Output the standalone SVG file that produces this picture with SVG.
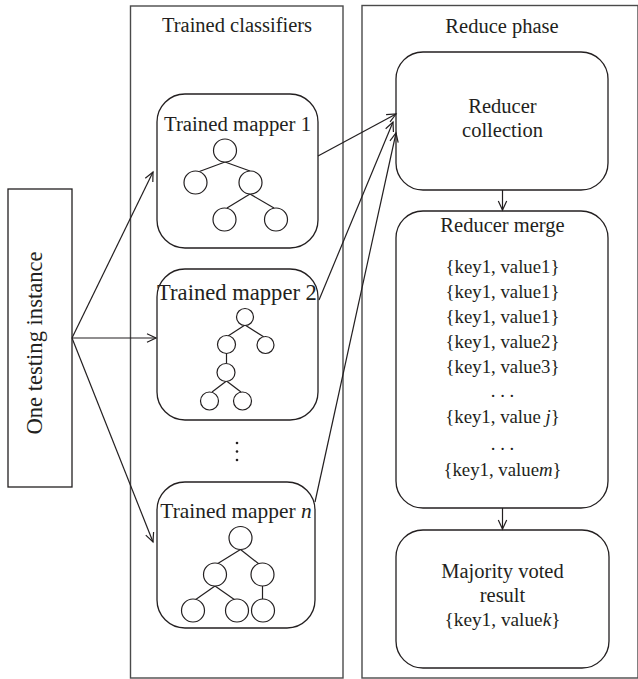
<svg xmlns="http://www.w3.org/2000/svg" width="638" height="679" viewBox="0 0 638 679">
<style>
  text { font-family: "Liberation Serif", "Times New Roman", serif; fill: #231f20; text-anchor: middle; }
  .lbl { font-size: 20.5px; }
  .kv { font-size: 18.8px; }
  .container { fill: none; stroke: #4a4a4a; stroke-width: 1.4; }
  .box { fill: #fff; stroke: #231f20; stroke-width: 1.3; }
  .node { fill: #fff; stroke: #231f20; stroke-width: 1.2; }
  .edge { stroke: #231f20; stroke-width: 1.2; fill: none; }
  .conn { stroke: #231f20; stroke-width: 1.2; fill: none; marker-end: url(#arr); }
</style>
<defs>
  <marker id="arr" markerUnits="userSpaceOnUse" markerWidth="12" markerHeight="12" refX="10" refY="5" orient="auto">
    <path d="M1,0.8 L10,5 L1,9.2" fill="none" stroke="#231f20" stroke-width="1.2"/>
  </marker>
</defs>
<rect width="638" height="679" fill="#fff"/>

<g id="trained-classifiers">
  <rect class="container" x="130.5" y="6" width="212.5" height="672"/>
  <text class="lbl" x="237" y="32">Trained classifiers</text>
</g>
<g id="reduce-phase">
  <rect class="container" x="362" y="5.5" width="276" height="672.5"/>
  <text class="lbl" x="502" y="33">Reduce phase</text>
</g>

<g id="testing-instance">
  <rect class="box" x="8" y="189" width="64" height="298"/>
  <text class="lbl" style="font-size:22.6px" transform="translate(41.5,343) rotate(-90)">One testing instance</text>
</g>

<g id="mapper1">
  <rect class="box" x="157" y="94" width="161" height="154" rx="28" ry="28"/>
  <text class="lbl" style="font-size:20.8px" x="237.5" y="130.5">Trained mapper 1</text>
  <line class="edge" x1="225" y1="162" x2="198" y2="172"/>
  <line class="edge" x1="225" y1="162" x2="250" y2="171"/>
  <line class="edge" x1="250" y1="194" x2="227" y2="208"/>
  <line class="edge" x1="250" y1="194" x2="274" y2="208"/>
  <circle class="node" cx="225" cy="150.5" r="11.5"/>
  <circle class="node" cx="195.5" cy="182.5" r="11.5"/>
  <circle class="node" cx="250.5" cy="182.5" r="11.5"/>
  <circle class="node" cx="224.5" cy="219.5" r="11.5"/>
  <circle class="node" cx="276" cy="219.5" r="11.5"/>
</g>

<g id="mapper2">
  <rect class="box" x="157" y="269" width="161" height="151" rx="28" ry="28"/>
  <text class="lbl" style="font-size:22.6px" x="237" y="300">Trained mapper 2</text>
  <line class="edge" x1="245" y1="325" x2="228" y2="336"/>
  <line class="edge" x1="245" y1="325" x2="264" y2="337"/>
  <line class="edge" x1="226.5" y1="353" x2="226.5" y2="363"/>
  <line class="edge" x1="226.5" y1="381" x2="212" y2="392"/>
  <line class="edge" x1="226.5" y1="381" x2="241" y2="392"/>
  <circle class="node" cx="245" cy="317" r="8.5"/>
  <circle class="node" cx="226.5" cy="344.5" r="9"/>
  <circle class="node" cx="265.5" cy="345" r="8.5"/>
  <circle class="node" cx="226" cy="372.5" r="9"/>
  <circle class="node" cx="209.5" cy="401" r="9"/>
  <circle class="node" cx="242.5" cy="401" r="9"/>
</g>

<g id="ellipsis">
  <circle cx="237" cy="443" r="1.3" fill="#231f20"/>
  <circle cx="237" cy="451.5" r="1.3" fill="#231f20"/>
  <circle cx="237" cy="460" r="1.3" fill="#231f20"/>
</g>

<g id="mappern">
  <rect class="box" x="157" y="482" width="158" height="146" rx="28" ry="28"/>
  <text class="lbl" style="font-size:21.4px" x="236" y="518">Trained mapper <tspan font-style="italic">n</tspan></text>
  <line class="edge" x1="240.5" y1="549.5" x2="217" y2="564"/>
  <line class="edge" x1="240.5" y1="549.5" x2="259" y2="564"/>
  <line class="edge" x1="215" y1="586" x2="195" y2="600"/>
  <line class="edge" x1="215" y1="586" x2="235" y2="600"/>
  <line class="edge" x1="262.5" y1="586" x2="262.5" y2="599"/>
  <circle class="node" cx="240.5" cy="538" r="11.5"/>
  <circle class="node" cx="215" cy="574.5" r="11.5"/>
  <circle class="node" cx="262.5" cy="574.5" r="11.5"/>
  <circle class="node" cx="193" cy="610.5" r="11.5"/>
  <circle class="node" cx="237" cy="610.5" r="11.5"/>
  <circle class="node" cx="263" cy="610.5" r="11.5"/>
</g>

<g id="reducer-collection">
  <rect class="box" x="396" y="52" width="212" height="138" rx="27" ry="27"/>
  <text class="lbl" x="502.5" y="113">Reducer</text>
  <text class="lbl" x="502.5" y="137">collection</text>
</g>

<g id="reducer-merge">
  <rect class="box" x="396" y="211" width="212" height="297" rx="27" ry="27"/>
  <text class="lbl" x="502.5" y="232">Reducer merge</text>
  <text class="kv" x="502.5" y="272.7">{key1, value1}</text>
  <text class="kv" x="502.5" y="297.7">{key1, value1}</text>
  <text class="kv" x="502.5" y="322.7">{key1, value1}</text>
  <text class="kv" x="502.5" y="347.7">{key1, value2}</text>
  <text class="kv" x="502.5" y="372.7">{key1, value3}</text>
  <text class="kv" x="502.5" y="397">. . .</text>
  <text class="kv" x="502.5" y="423">{key1, value <tspan font-style="italic">j</tspan>}</text>
  <text class="kv" x="502.5" y="450">. . .</text>
  <text class="kv" x="502.5" y="475.5">{key1, value<tspan font-style="italic">m</tspan>}</text>
</g>

<g id="majority-result">
  <rect class="box" x="396" y="530" width="213" height="138" rx="27" ry="27"/>
  <text class="lbl" x="502.5" y="578">Majority voted</text>
  <text class="lbl" x="502.5" y="602">result</text>
  <text class="kv" style="font-size:19.3px" x="502.5" y="625.5">{key1, value<tspan font-style="italic">k</tspan>}</text>
</g>

<g id="connectors">
  <line class="conn" x1="72" y1="338" x2="153" y2="172"/>
  <line class="conn" x1="72" y1="338" x2="156" y2="338"/>
  <line class="conn" x1="72" y1="338" x2="153" y2="542"/>
  <line class="conn" x1="318" y1="156" x2="396" y2="114"/>
  <line class="conn" x1="319" y1="300" x2="393" y2="122"/>
  <line class="conn" x1="315" y1="502" x2="396" y2="133"/>
  <line class="conn" x1="502.5" y1="190" x2="502.5" y2="210"/>
  <line class="conn" x1="502.5" y1="508" x2="502.5" y2="529"/>
</g>
</svg>
